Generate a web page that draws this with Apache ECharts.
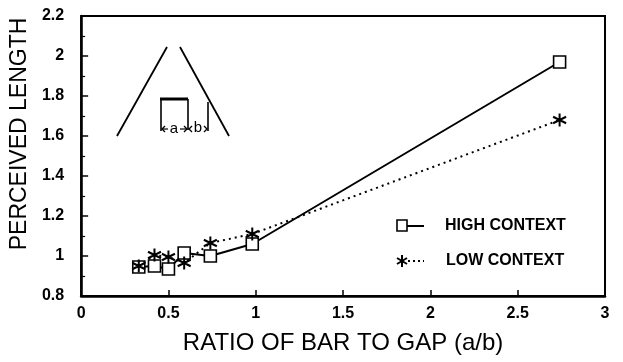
<!DOCTYPE html>
<html>
<head>
<meta charset="utf-8">
<script src="https://cdn.jsdelivr.net/npm/echarts@6/dist/echarts.min.js"></script>
<style>html,body{margin:0;padding:0;background:#fff}#c{width:623px;height:362px}</style>
</head>
<body>
<div id="c"></div>
<script>
// ---- data ----
const ratios      = [0.33, 0.42, 0.50, 0.59, 0.74, 0.98, 2.74];
const highContext = [0.945, 0.95, 0.935, 1.015, 1.0, 1.06, 1.97];
const lowContext  = [0.95, 1.005, 0.995, 0.965, 1.065, 1.11, 1.68];
const seriesNames = ['HIGH CONTEXT', 'LOW CONTEXT'];
const xTicks = [0, 0.5, 1, 1.5, 2, 2.5, 3];
const yTicks = [0.8, 1, 1.2, 1.4, 1.6, 1.8, 2, 2.2];
const xTitle = 'RATIO OF BAR TO GAP (a/b)';
const yTitle = 'PERCEIVED LENGTH';

const FONT = '"Liberation Sans", Arial, Helvetica, sans-serif';
const star = 'path://M0,-10L0,10M-8.66,-5L8.66,5M-8.66,5L8.66,-5';

const chart = echarts.init(document.getElementById('c'), null, {renderer: 'canvas'});

const pair = (xs, ys) => xs.map((x, i) => [x, ys[i]]);
const fmt = v => String(+(+v).toFixed(1));
const ln = (x1, y1, x2, y2, w, extra) => ({type: 'line', shape: {x1, y1, x2, y2}, style: Object.assign({stroke: '#000', lineWidth: w}, extra || {})});

const option = {
  animation: false,
  backgroundColor: '#fff',
  grid: {left: 80, right: 18, top: 16, bottom: 66, show: true, borderColor: '#000', borderWidth: 2, backgroundColor: 'transparent'},
  xAxis: {
    type: 'value', min: xTicks[0], max: xTicks[xTicks.length - 1], interval: xTicks[1] - xTicks[0],
    name: xTitle, nameLocation: 'middle', nameGap: 35,
    nameTextStyle: {fontFamily: FONT, fontSize: 24, color: '#000'},
    axisLine: {show: true, lineStyle: {color: '#000', width: 2.5}},
    axisTick: {show: true, inside: true, length: 6, lineStyle: {color: '#000', width: 1.5}},
    axisLabel: {fontFamily: FONT, fontSize: 16, fontWeight: 'bold', color: '#000', margin: 10, formatter: fmt},
    splitLine: {show: false}
  },
  yAxis: {
    type: 'value', min: yTicks[0], max: yTicks[yTicks.length - 1], interval: 0.2,
    name: yTitle, nameLocation: 'middle', nameGap: 46, nameRotate: 90,
    nameTextStyle: {fontFamily: FONT, fontSize: 23, color: '#000', padding: [0, 0, 0, 44]},
    axisLine: {show: true, lineStyle: {color: '#000', width: 2.5}},
    axisTick: {show: true, inside: true, length: 7, lineStyle: {color: '#000', width: 1.5}},
    minorTick: {show: true, splitNumber: 2, length: 4, lineStyle: {color: '#000', width: 1.2}},
    axisLabel: {fontFamily: FONT, fontSize: 16, fontWeight: 'bold', color: '#000', margin: 17, formatter: fmt},
    splitLine: {show: false}
  },
  series: [
    {
      name: seriesNames[0], type: 'line', data: pair(ratios, highContext),
      symbol: 'rect', symbolSize: 12, z: 2,
      lineStyle: {color: '#000', width: 2},
      itemStyle: {color: '#fff', borderColor: '#000', borderWidth: 1.6}
    },
    {
      name: seriesNames[1], type: 'line', data: pair(ratios, lowContext),
      symbol: star, symbolSize: 13, z: 3,
      lineStyle: {color: '#000', width: 2, type: [2, 4]},
      itemStyle: {color: '#000', borderColor: '#000', borderWidth: 2}
    }
  ],
  graphic: [
    // inset illustration
    ln(117, 136, 167, 47, 1.8),
    ln(180, 47, 229, 136, 1.8),
    ln(160, 99, 188, 99, 3),
    ln(161, 99, 161, 131, 1.6),
    ln(188, 99, 188, 130, 1.6),
    ln(208, 102, 208, 131, 1.6),
    {type: 'polyline', shape: {points: [[165, 126], [162, 129], [165, 132]]}, style: {stroke: '#000', lineWidth: 1.3, fill: null}},
    {type: 'polyline', shape: {points: [[184, 126], [187, 129], [184, 132]]}, style: {stroke: '#000', lineWidth: 1.3, fill: null}},
    {type: 'polyline', shape: {points: [[192, 126], [189, 129], [192, 132]]}, style: {stroke: '#000', lineWidth: 1.3, fill: null}},
    {type: 'polyline', shape: {points: [[204, 126], [207, 129], [204, 132]]}, style: {stroke: '#000', lineWidth: 1.3, fill: null}},
    ln(162, 129, 168, 129, 1.2),
    ln(180, 129, 187, 129, 1.2),
    {type: 'text', x: 174, y: 129, style: {text: 'a', fontFamily: FONT, fontSize: 15, fill: '#000', align: 'center', verticalAlign: 'middle'}},
    {type: 'text', x: 198, y: 128, style: {text: 'b', fontFamily: FONT, fontSize: 15, fill: '#000', align: 'center', verticalAlign: 'middle'}},
    // legend
    ln(406, 226, 424, 226, 2),
    {type: 'rect', shape: {x: 397, y: 220, width: 10, height: 11}, style: {stroke: '#000', lineWidth: 1.6, fill: '#fff'}},
    {type: 'text', x: 445, y: 226, style: {text: seriesNames[0], fontFamily: FONT, fontSize: 16, fontWeight: 'bold', fill: '#000', verticalAlign: 'middle'}},
    ln(408, 261, 424, 261, 1.8, {lineDash: [2, 3]}),
    ln(402, 255, 402, 267, 2),
    ln(397, 258, 407, 264, 2),
    ln(397, 264, 407, 258, 2),
    {type: 'text', x: 446, y: 261, style: {text: seriesNames[1], fontFamily: FONT, fontSize: 16, fontWeight: 'bold', fill: '#000', verticalAlign: 'middle'}}
  ]
};
chart.setOption(option);
</script>
</body>
</html>
